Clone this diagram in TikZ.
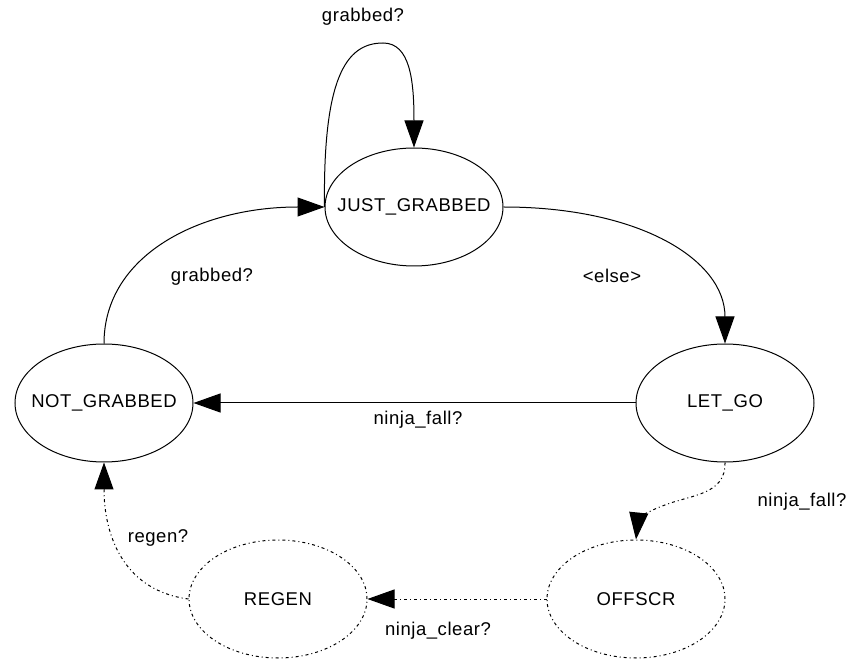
\documentclass[tikz,border=0pt]{standalone}
\usepackage{fontspec}
\setmainfont{Liberation Sans}[LetterSpace=3]
\usetikzlibrary{shapes.geometric,arrows.meta}
\newcommand{\statename}[1]{\makebox[0pt][c]{#1}}
\begin{document}
\begin{tikzpicture}[x=1pt,y=-1pt,
  every node/.style={font=\fontsize{18.5}{22}\selectfont},
  state/.style={ellipse,draw,line width=1pt,minimum width=178pt,minimum height=118pt,inner sep=0pt},
  softstate/.style={state,dash pattern=on 3pt off 3pt on 1pt off 3pt},
  trans/.style={line width=1pt,-{Triangle[length=27pt,width=19pt]}},
  softtrans/.style={trans,dash pattern=on 3pt off 3pt on 1pt off 3pt},
  lbl/.style={inner sep=0pt}]
\useasboundingbox (0,0) rectangle (847,660);

% states (names take no width, so every ellipse keeps the same size)
\node[state] (jg) at (414,207) {\statename{JUST\_GRABBED}};
\node[state] (ng) at (104,403) {\statename{NOT\_GRABBED}};
\node[state] (lg) at (725,403) {\statename{LET\_GO}};
\node[softstate] (off) at (636,599) {\statename{OFFSCR}};
\node[softstate] (rg) at (278,599) {\statename{REGEN}};

% transitions
\draw[trans] (jg.west) .. controls (323,80) and (345,43) .. (383,43)
  .. controls (410,43) and (414,80) .. (jg.north);
\draw[trans] (ng.north) .. controls (104,255) and (200,207) .. (jg.west);
\draw[trans] (jg.east) .. controls (640,207) and (725,260) .. (lg.north);
\draw[trans] (lg.west) -- (ng.east);
\draw[softtrans] (lg.south) .. controls (726,495) and (690,495) .. (665,505)
  .. controls (645,512) and (638,520) .. (off.north);
\draw[softtrans] (off.west) -- (rg.east);
\draw[softtrans] (rg.west) .. controls (120,590) and (104,530) .. (ng.south);

% labels
\node[lbl] (l1) at (363,17) {grabbed?};
\node[lbl] (l2) at (212,277) {grabbed?};
\node[lbl] (l3) at (612,276) {<else>};
\node[lbl] (l4) at (418,420) {ninja\_fall?};
\node[lbl] (l5) at (802,502) {ninja\_fall?};
\node[lbl] (l6) at (438,631) {ninja\_clear?};
\node[lbl] (l7) at (158,538) {regen?};
\end{tikzpicture}
\end{document}
